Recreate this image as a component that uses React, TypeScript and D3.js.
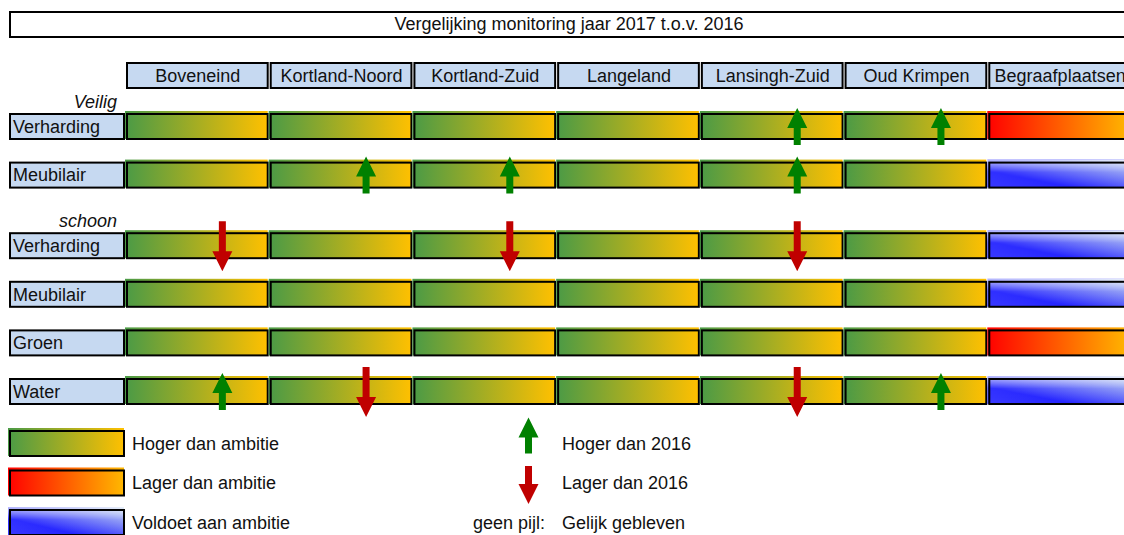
import * as d3 from "d3";

const title = "Vergelijking monitoring jaar 2017 t.o.v. 2016";
const columns = ["Boveneind", "Kortland-Noord", "Kortland-Zuid", "Langeland", "Lansingh-Zuid", "Oud Krimpen", "Begraafplaatsen"];
const groupNames = ["Veilig", "schoon"];
const rowLabels = ["Verharding", "Meubilair", "Verharding", "Meubilair", "Groen", "Water"];
const rowGroups = [0, 0, 1, 1, 1, 1];

// H = hoger dan ambitie, L = lager dan ambitie, V = voldoet aan ambitie
const status = [
  ["H", "H", "H", "H", "H", "H", "L"],
  ["H", "H", "H", "H", "H", "H", "V"],
  ["H", "H", "H", "H", "H", "H", "V"],
  ["H", "H", "H", "H", "H", "H", "V"],
  ["H", "H", "H", "H", "H", "H", "L"],
  ["H", "H", "H", "H", "H", "H", "V"],
];
// 1 = hoger dan 2016, -1 = lager dan 2016, 0 = gelijk
const trend = [
  [0, 0, 0, 0, 1, 1, 0],
  [0, 1, 1, 0, 1, 0, 0],
  [-1, 0, -1, 0, -1, 0, 0],
  [0, 0, 0, 0, 0, 0, 0],
  [0, 0, 0, 0, 0, 0, 0],
  [1, -1, 0, 0, -1, 1, 0],
];
const statusLegend = [
  { key: "H", label: "Hoger dan ambitie" },
  { key: "L", label: "Lager dan ambitie" },
  { key: "V", label: "Voldoet aan ambitie" },
];
const trendLegend = [
  { dir: 1, label: "Hoger dan 2016" },
  { dir: -1, label: "Lager dan 2016" },
  { dir: 0, label: "Gelijk gebleven" },
];

const W = 1124;
const H = 535;
const font = "'Liberation Sans', Arial, sans-serif";
const fs = 18;
const rowH = 27;
const groupGap = 22;
const labelBlue = "#c6d9f1";
const up = "#008000";
const down = "#c00000";
const fills: Record<string, string> = { H: "url(#gHoger)", L: "url(#gLager)", V: "url(#gVoldoet)" };

const x = d3.scaleBand<string>().domain(columns).range([126, 1130]).paddingInner(0.014).paddingOuter(0);
const yRow = d3.scaleLinear().domain([0, rowLabels.length - 1]).range([113, 378 - groupGap]);
const rowTop = (i: number) => yRow(i) + rowGroups[i] * groupGap;

function arrowPath(dir: number, cx: number, start: number, len: number) {
  const hw = 10, hh = 20, sw = 3.5;
  if (dir > 0) {
    const t = start;
    return `M${cx},${t}L${cx + hw},${t + hh}L${cx + sw},${t + hh}L${cx + sw},${t + len}L${cx - sw},${t + len}L${cx - sw},${t + hh}L${cx - hw},${t + hh}Z`;
  }
  const t = start, b = start + len;
  return `M${cx - sw},${t}L${cx + sw},${t}L${cx + sw},${b - hh}L${cx + hw},${b - hh}L${cx},${b}L${cx - hw},${b - hh}L${cx - sw},${b - hh}Z`;
}

function Cell({ x0, y0, w, h, fill }: { x0: number; y0: number; w: number; h: number; fill: string }) {
  return (
    <g>
      <rect x={x0 - 1} y={y0 - 2} width={w} height={h + 1} fill={fill} />
      <rect x={x0 + 1} y={y0 + 1} width={w - 2} height={h - 2} fill="none" stroke="#000" strokeWidth={2} />
    </g>
  );
}

function Box({ x0, y0, w, h, fill }: { x0: number; y0: number; w: number; h: number; fill: string }) {
  return <rect x={x0 + 1} y={y0 + 1} width={w - 2} height={h - 2} fill={fill} stroke="#000" strokeWidth={2} />;
}

export default function App() {
  const bw = x.bandwidth();
  const arrowX = (c: string) => (x(c) as number) + bw * 0.68;
  const legendY = d3.scaleLinear().domain([0, 2]).range([430, 509]);

  return (
    <div style={{ position: "absolute", left: 0, top: 0 }}>
      <svg width={W} height={H} style={{ display: "block", background: "#fff" }} fontFamily={font} fontSize={fs}>
        <defs>
          <linearGradient id="gHoger" x1="0" y1="0" x2="1" y2="0">
            <stop offset="0" stopColor="#4a9a46" />
            <stop offset="1" stopColor="#ffc000" />
          </linearGradient>
          <linearGradient id="gLager" x1="0" y1="0" x2="1" y2="0">
            <stop offset="0" stopColor="#ff0000" />
            <stop offset="1" stopColor="#ffb800" />
          </linearGradient>
          <linearGradient id="gVoldoetBase" x1="0" y1="1" x2="1" y2="0">
            <stop offset="0" stopColor="#3a3aff" />
            <stop offset="0.3" stopColor="#2424ff" />
            <stop offset="1" stopColor="#c6d9f1" />
          </linearGradient>
          <linearGradient id="gVoldoetTop" x1="0" y1="0" x2="0" y2="1">
            <stop offset="0" stopColor="#ffffff" stopOpacity={0.6} />
            <stop offset="0.45" stopColor="#ffffff" stopOpacity={0.05} />
            <stop offset="1" stopColor="#ffffff" stopOpacity={0} />
          </linearGradient>
          <pattern id="gVoldoet" patternContentUnits="objectBoundingBox" width="1" height="1">
            <rect width="1" height="1" fill="url(#gVoldoetBase)" />
            <rect width="1" height="1" fill="url(#gVoldoetTop)" />
          </pattern>
        </defs>

        {/* title */}
        <Box x0={9} y0={11} w={1121} h={27} fill="#fff" />
        <text x={569} y={24} dy="0.35em" textAnchor="middle" fill="#111">{title}</text>

        {/* column headers */}
        {columns.map((c) => (
          <g key={c}>
            <Box x0={x(c) as number} y0={62} w={bw + 1} h={27} fill={labelBlue} />
            <text x={(x(c) as number) + bw / 2 + 1} y={75.5} dy="0.35em" textAnchor="middle" fill="#111">{c}</text>
          </g>
        ))}

        {/* group names */}
        {groupNames.map((g, gi) => {
          const first = rowGroups.indexOf(gi);
          return (
            <text key={g} x={117} y={rowTop(first) - 5} textAnchor="end" fontStyle="italic" fill="#111">{g}</text>
          );
        })}

        {/* rows */}
        {rowLabels.map((r, i) => {
          const t = rowTop(i);
          return (
            <g key={i}>
              <Box x0={9} y0={t} w={116} h={rowH} fill={labelBlue} />
              <text x={13} y={t + rowH / 2} dy="0.35em" fill="#111">{r}</text>
              {columns.map((c, j) => (
                <Cell key={c} x0={x(c) as number} y0={t} w={bw + 1} h={rowH} fill={fills[status[i][j]]} />
              ))}
            </g>
          );
        })}

        {/* trend arrows */}
        {rowLabels.map((_, i) =>
          columns.map((c, j) => {
            const d = trend[i][j];
            if (d === 0) return null;
            const t = rowTop(i);
            return d > 0 ? (
              <path key={`${i}-${c}`} d={arrowPath(1, arrowX(c), t - 5, 37)} fill={up} />
            ) : (
              <path key={`${i}-${c}`} d={arrowPath(-1, arrowX(c), t - 11, 50)} fill={down} />
            );
          })
        )}

        {/* legend: status */}
        {statusLegend.map((s, i) => (
          <g key={s.key}>
            <Cell x0={9} y0={legendY(i)} w={116} h={rowH} fill={fills[s.key]} />
            <text x={132} y={legendY(i) + rowH / 2} dy="0.35em" fill="#111">{s.label}</text>
          </g>
        ))}

        {/* legend: trend */}
        {trendLegend.map((s, i) => {
          const cy = legendY(i) + rowH / 2;
          return (
            <g key={s.label}>
              {s.dir > 0 && <path d={arrowPath(1, 528.5, cy - 26, 36)} fill={up} />}
              {s.dir < 0 && <path d={arrowPath(-1, 528.5, cy - 17, 38)} fill={down} />}
              {s.dir === 0 && <text x={545} y={cy} dy="0.35em" textAnchor="end" fill="#111">geen pijl:</text>}
              <text x={562} y={cy} dy="0.35em" fill="#111">{s.label}</text>
            </g>
          );
        })}
      </svg>
    </div>
  );
}
